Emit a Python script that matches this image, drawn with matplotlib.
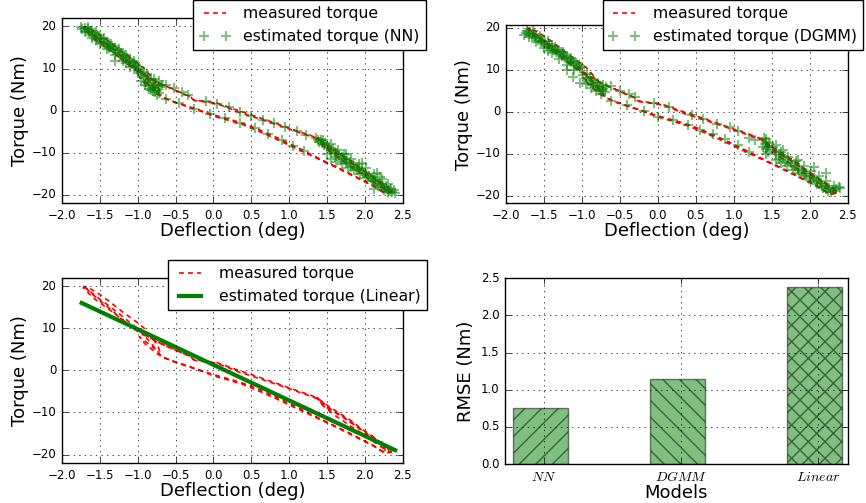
import matplotlib
matplotlib.use("Agg")
import matplotlib.pyplot as plt

plt.style.use('classic')
plt.rcParams['font.family'] = ['DejaVu Sans']
plt.rcParams['mathtext.fontset'] = 'cm'
plt.rcParams['savefig.facecolor'] = 'white'
plt.rcParams['figure.facecolor'] = 'white'

# ---------------- data ----------------
meas_defl = [
    -1.72, -1.65, -1.58, -1.50, -1.40, -1.30, -1.20, -1.10, -1.00, -0.92, -0.85, -0.78, -0.73, -0.70,
    -0.66, -0.58, -0.50, -0.40, -0.30, -0.20, -0.10, 0.00, 0.10, 0.22, 0.35, 0.48, 0.60, 0.75, 0.90,
    1.01, 1.15, 1.30, 1.50, 1.65, 1.80, 1.98, 2.10, 2.24, 2.30, 2.36,
    2.33, 2.28, 2.22, 2.17, 2.10, 2.04, 1.98, 1.92, 1.85, 1.78, 1.72, 1.65, 1.58, 1.52, 1.46, 1.42,
    1.39, 1.37,
    1.42, 1.48, 1.55, 1.62, 1.70, 1.78, 1.86, 1.95, 2.04, 2.12, 2.20, 2.28, 2.35, 2.38,
    2.30, 2.22, 2.14, 2.06, 1.98, 1.90, 1.82, 1.74, 1.66, 1.58, 1.50, 1.44, 1.38,
    1.28, 1.15, 1.01, 0.85, 0.70, 0.48, 0.35, 0.22, 0.10, 0.00, -0.12, -0.25, -0.29, -0.31, -0.40,
    -0.53, -0.65, -0.75, -0.85, -1.00, -1.10, -1.20, -1.30, -1.40, -1.50, -1.60, -1.68, -1.72,
    -1.68, -1.60, -1.50, -1.40, -1.30, -1.20, -1.10, -1.00, -0.92, -0.85, -0.78, -0.73, -0.71,
    -0.76, -0.84, -0.92, -0.98, -0.90, -0.80, -0.74, -0.68,
    -0.55, -0.40, -0.20, 0.00, 0.20, 0.40, 0.60, 0.80, 1.00, 1.20, 1.40, 1.60, 1.80, 2.00, 2.12,
    2.22, 2.28,
    2.25, 2.15, 2.05, 1.95, 1.85, 1.75, 1.65, 1.55, 1.45, 1.40,
    1.30, 1.10, 0.90, 0.60, 0.30, 0.05, -0.20, -0.27, -0.30, -0.45, -0.60, -0.72, -0.82, -0.95,
    -1.08, -1.22, -1.36, -1.50, -1.62, -1.70]
meas_torque = [
    20.0, 19.1, 18.0, 16.9, 15.6, 14.2, 12.8, 11.3, 9.9, 8.5, 7.0, 5.5, 4.4, 3.6,
    3.1, 2.5, 2.0, 1.4, 0.8, 0.2, -0.4, -1.0, -1.5, -2.1, -2.8, -3.6, -4.5, -5.7, -6.9,
    -7.9, -9.1, -10.5, -12.3, -13.6, -14.9, -16.6, -17.7, -19.4, -19.6, -19.3,
    -18.4, -18.0, -17.0, -16.9, -15.6, -15.2, -14.1, -13.8, -12.6, -12.1, -11.0, -10.6, -9.5, -9.2,
    -8.0, -7.7, -6.7, -6.5,
    -7.9, -8.9, -9.9, -10.9, -11.8, -12.9, -13.8, -14.9, -16.0, -17.0, -18.0, -18.9, -19.5, -19.2,
    -18.6, -17.6, -16.4, -15.6, -14.5, -13.4, -12.5, -11.5, -10.4, -9.6, -8.5, -7.6, -6.8,
    -6.1, -5.3, -4.4, -3.4, -2.5, -1.2, -0.5, 0.5, 1.3, 1.8, 2.1, 2.4, 3.1, 3.4, 4.0,
    5.1, 6.0, 6.8, 7.9, 9.6, 10.6, 12.0, 13.4, 14.8, 16.0, 17.4, 18.9, 19.6,
    19.9, 19.1, 18.0, 16.7, 15.3, 13.9, 12.6, 11.3, 10.1, 8.6, 7.0, 5.6, 4.6,
    4.9, 6.0, 7.2, 8.0, 6.2, 4.8, 3.9, 3.3,
    2.2, 1.3, 0.1, -1.3, -2.3, -3.4, -4.9, -6.5, -8.2, -9.9, -11.6, -13.3, -15.1, -16.9, -18.0,
    -19.1, -19.6,
    -17.8, -16.3, -15.0, -13.9, -12.3, -11.2, -10.0, -8.9, -7.6, -6.9,
    -6.0, -4.8, -3.5, -1.6, 0.2, 1.8, 2.4, 2.6, 3.3, 4.4, 5.6, 6.6, 7.6, 8.6,
    10.2, 12.3, 14.5, 16.6, 18.4, 19.8]

nn_defl = [
    -1.75, -1.73, -1.70, -1.68, -1.66, -1.64, -1.62, -1.60, -1.58, -1.56, -1.54, -1.52, -1.50, -1.48,
    -1.46, -1.44, -1.42, -1.40, -1.38, -1.36, -1.34, -1.32, -1.30, -1.28, -1.26, -1.24, -1.22, -1.20,
    -1.18, -1.16, -1.14, -1.12, -1.10, -1.08, -1.06, -1.04, -1.02, -1.00, -0.98, -1.30, -1.15, -1.38,
    -1.55, -0.99,
    -1.70, -1.60, -1.50, -1.40, -1.30, -1.20, -1.10, -1.00,
    -1.65, -1.55, -1.45, -1.35, -1.25, -1.15, -1.05,
    -0.96, -0.93, -0.90, -0.88, -0.86, -0.84, -0.82, -0.80, -0.78, -0.76, -0.74, -0.72, -0.75, -0.80,
    -0.85, -0.90, -0.95, -0.70, -0.68, -0.72, -0.78, -0.92, -0.87, -0.82, -0.77, -0.73, -0.89,
    -0.62, -0.52, -0.42, -0.33, -0.10, 0.05, 0.20, 0.35, 0.50, 0.65, 0.80, 0.95, 1.10, 1.22,
    -0.62, -0.45, -0.25, -0.05, 0.15, 0.35, 0.55, 0.72, 0.90, 1.05, 1.20,
    1.36, 1.38, 1.40, 1.42, 1.44, 1.46, 1.48, 1.50, 1.52, 1.55, 1.58, 1.60, 1.63, 1.66, 1.70, 1.73,
    1.76, 1.80, 1.84, 1.88, 1.92, 1.96, 2.00, 2.04, 2.08, 2.12, 2.16, 2.20, 2.24, 2.28, 2.32, 2.36, 2.40,
    1.55, 1.62, 1.70, 1.78, 1.86, 1.94, 2.02, 2.10, 2.18, 2.25, 2.30,
    1.50, 1.60, 1.68, 1.75, 1.82, 1.90, 1.98, 2.06, 2.14, 2.22, 2.28, 2.34,
    1.45, 1.55, 1.65, 1.72, 1.82, 1.92, 2.02, 2.12, 2.22, 2.30, 2.38,
    1.75, 1.96, 2.16, 2.20, 2.12]
nn_torque = [
    19.8, 19.5, 19.7, 19.0, 19.3, 18.6, 18.9, 18.0, 18.4, 17.5, 17.9, 17.0, 17.3, 16.4,
    16.9, 16.0, 16.4, 15.4, 15.9, 15.0, 15.3, 14.4, 14.8, 13.9, 14.3, 13.3, 13.7, 12.8,
    13.1, 12.2, 12.6, 11.6, 12.0, 11.0, 11.4, 10.5, 10.9, 9.9, 10.3, 11.9, 11.3, 14.9,
    16.8, 9.5,
    18.6, 17.2, 15.9, 14.6, 13.2, 11.8, 10.4, 9.0,
    19.8, 18.6, 17.3, 15.9, 14.6, 13.2, 11.8,
    9.0, 8.4, 7.8, 8.6, 7.2, 6.6, 7.5, 6.0, 5.4, 6.4, 4.8, 4.2, 3.8, 4.6,
    5.2, 6.2, 7.0, 5.5, 6.2, 7.0, 7.6, 9.2, 5.8, 5.0, 4.4, 5.9, 6.8,
    6.2, 5.3, 4.4, 3.6, 2.2, 1.6, 0.8, -0.3, -1.2, -2.2, -3.0, -4.0, -4.9, -5.7,
    2.8, 1.7, 0.5, -0.7, -1.8, -2.9, -4.2, -5.5, -7.0, -8.3, -9.6,
    -6.6, -7.0, -7.4, -6.9, -7.8, -8.1, -7.6, -8.5, -8.9, -9.3, -9.0, -9.8, -10.2, -10.6, -11.0, -11.5,
    -11.9, -12.3, -12.8, -13.4, -13.9, -14.4, -14.9, -15.5, -16.0, -16.6, -17.1, -17.6, -18.2, -18.7,
    -19.1, -19.4, -19.5,
    -11.5, -12.1, -12.7, -13.5, -14.2, -15.0, -15.9, -16.8, -17.8, -18.8, -19.4,
    -10.2, -10.9, -11.8, -12.5, -13.3, -14.0, -14.8, -15.6, -16.5, -17.3, -18.0, -18.6,
    -6.9, -8.0, -9.3, -10.3, -11.4, -12.6, -13.7, -15.0, -16.3, -17.5, -18.8,
    -10.3, -12.4, -14.7, -15.8, -18.5]

dgmm_defl = [
    -1.76, -1.74, -1.72, -1.70, -1.68, -1.66, -1.64, -1.62, -1.60, -1.58, -1.56, -1.54, -1.52,
    -1.50, -1.48, -1.46, -1.44, -1.42, -1.40, -1.38, -1.36, -1.34, -1.32, -1.30, -1.28, -1.26,
    -1.24, -1.22, -1.20, -1.18, -1.16, -1.14, -1.12, -1.10, -1.08, -1.06, -1.04, -1.02, -1.00,
    -1.20, -1.12, -1.03, -1.45,
    -1.70, -1.60, -1.50, -1.40, -1.30, -1.20, -1.10,
    -1.65, -1.55, -1.45, -1.35, -1.25, -1.15,
    -0.98, -0.95, -0.92, -0.90, -0.88, -0.85, -0.83, -0.80, -0.78, -0.76, -0.74, -0.72, -0.70,
    -0.68, -0.95, -0.88, -0.82, -0.75, -0.72, -0.93, -0.79, -0.86,
    -0.62, -0.50, -0.38, -0.30, -0.05, 0.15, 0.45, 0.60, 0.78, 0.95, 1.05, 1.20, 1.28,
    -0.62, -0.40, -0.18, 0.00, 0.20, 0.40, 0.55, 0.72, 0.88, 1.05, 1.20,
    1.40, 1.42, 1.43, 1.41, 1.44, 1.42, 1.45, 1.43, 1.47, 1.39,
    1.50, 1.55, 1.60, 1.65, 1.70, 1.75, 1.80, 1.85, 1.90, 1.95, 2.00, 2.05, 2.10, 2.15, 2.20,
    2.25, 2.30, 2.35, 2.38, 2.40,
    1.55, 1.62, 1.70, 1.78, 1.86, 1.94, 2.02, 2.10, 2.18, 2.24, 2.28,
    1.60, 1.68, 1.76, 1.84, 1.92, 2.00, 2.08, 2.16, 2.22,
    1.52, 1.62, 1.72, 1.82, 1.92, 2.02, 2.12, 2.22, 2.32,
    2.22, 1.65, 1.55, 1.85, 2.05]
dgmm_torque = [
    18.2, 18.7, 19.2, 18.5, 19.0, 17.9, 18.4, 17.5, 17.9, 17.0, 17.4, 16.5, 16.9,
    16.1, 16.5, 15.6, 16.0, 15.2, 15.5, 14.7, 15.0, 14.2, 14.6, 13.8, 14.1, 13.3,
    13.6, 12.8, 13.1, 12.3, 12.6, 11.8, 12.1, 11.3, 11.6, 10.8, 11.0, 10.3, 10.5,
    10.0, 8.3, 6.8, 14.3,
    17.8, 16.5, 15.2, 13.9, 12.6, 11.2, 9.8,
    19.1, 17.9, 16.7, 15.4, 14.1, 12.8,
    8.6, 7.9, 7.3, 8.2, 6.8, 6.3, 7.1, 5.8, 5.2, 6.0, 4.9, 5.4, 4.6,
    5.8, 6.6, 5.6, 4.8, 4.2, 6.4, 9.0, 6.7, 7.6,
    6.0, 5.0, 4.1, 3.4, 2.0, 1.0, -0.9, -1.8, -2.9, -3.6, -4.6, -6.3, -6.8,
    2.5, 1.5, 0.1, -1.2, -2.0, -3.2, -4.4, -5.3, -6.5, -7.9, -9.5,
    -6.2, -6.6, -7.2, -7.8, -8.3, -8.9, -9.5, -10.1, -7.5, -8.5,
    -9.2, -9.8, -10.4, -10.9, -11.6, -12.1, -12.9, -13.4, -14.1, -14.6, -15.3, -15.8, -16.5,
    -17.0, -17.6, -18.2, -18.6, -18.3, -17.9, -18.2,
    -11.6, -12.3, -13.0, -13.8, -14.6, -15.4, -16.3, -17.2, -18.1, -18.8, -19.2,
    -11.2, -12.0, -12.8, -13.9, -14.8, -15.8, -16.8, -17.6, -18.3,
    -8.4, -9.6, -10.7, -11.8, -13.0, -14.1, -15.3, -16.5, -17.6,
    -14.7, -9.2, -8.0, -11.5, -13.2]

lin_defl = [-1.74, 2.40]
lin_torque = [16.0, -18.95]

models = ['$NN$', '$DGMM$', '$Linear$']
rmse = [0.75, 1.14, 2.38]
hatches = ['//', '\\\\', 'xx']

# ---------------- figure ----------------
W, H = 866, 503
fig = plt.figure(figsize=(W / 100, H / 100), dpi=100)

def px_axes(l, t, r, b):
    return fig.add_axes([l / W, 1 - b / H, (r - l) / W, (b - t) / H])

tick_fs = 8.5
lab_fs = 13
leg_fs = 11.3
DASH = (3.5, 3)

def style(ax, ylim):
    ax.set_xlim(-2.0, 2.5)
    ax.set_ylim(*ylim)
    ax.set_xticks([-2.0, -1.5, -1.0, -0.5, 0.0, 0.5, 1.0, 1.5, 2.0, 2.5])
    ax.set_yticks([-20, -10, 0, 10, 20])
    ax.tick_params(labelsize=tick_fs)
    ax.grid(True)
    ax.set_xlabel('Deflection (deg)', fontsize=lab_fs, labelpad=0)
    ax.set_ylabel('Torque (Nm)', fontsize=lab_fs, labelpad=2)

def meas(ax):
    ax.plot(meas_defl, meas_torque, color='r', ls='--', dashes=DASH, lw=1.2, label='measured torque')

# panel 1
ax1 = px_axes(62, 18, 402.7, 203.3)
meas(ax1)
ax1.plot(nn_defl, nn_torque, 'g+', ms=7, mew=1.5, alpha=0.5, label='estimated torque (NN)')
style(ax1, (-22, 22))
ax1.legend(loc='upper right', bbox_to_anchor=(426 / W, 1.0), bbox_transform=fig.transFigure,
           borderaxespad=0, prop={'size': leg_fs}, numpoints=2)

# panel 2
ax2 = px_axes(506, 25, 847.7, 203.3)
meas(ax2)
ax2.plot(dgmm_defl, dgmm_torque, 'g+', ms=7, mew=1.5, alpha=0.5, label='estimated torque (DGMM)')
style(ax2, (-21.8, 20.6))
ax2.legend(loc='upper right', bbox_to_anchor=(863 / W, 1.0), bbox_transform=fig.transFigure,
           borderaxespad=0, prop={'size': leg_fs}, numpoints=2)

# panel 3
ax3 = px_axes(62, 277.7, 402.7, 463)
meas(ax3)
ax3.plot(lin_defl, lin_torque, 'g-', lw=3, label='estimated torque (Linear)')
style(ax3, (-22, 22))
ax3.legend(loc='upper right', bbox_to_anchor=(426.7 / W, 1 - 260 / H), bbox_transform=fig.transFigure,
           borderaxespad=0, prop={'size': leg_fs}, numpoints=2)

# panel 4
ax4 = px_axes(505, 278.3, 847.7, 464)
pos = [0, 1, 2]
for p, v, h in zip(pos, rmse, hatches):
    ax4.bar(p, v, width=0.4, align='edge', color='g', alpha=0.5, edgecolor='k', hatch=h, linewidth=1)
ax4.set_xlim(-0.06, 2.44)
ax4.set_ylim(0, 2.5)
ax4.set_xticks([p + 0.225 for p in pos])
ax4.set_xticklabels(models)
ax4.set_yticks([0.0, 0.5, 1.0, 1.5, 2.0, 2.5])
ax4.tick_params(labelsize=tick_fs)
ax4.tick_params(axis='x', labelsize=10)
ax4.grid(True)
ax4.set_xlabel('Models', fontsize=lab_fs, labelpad=0)
ax4.set_ylabel('RMSE (Nm)', fontsize=lab_fs, labelpad=4)

fig.savefig('out.png', dpi=100)
